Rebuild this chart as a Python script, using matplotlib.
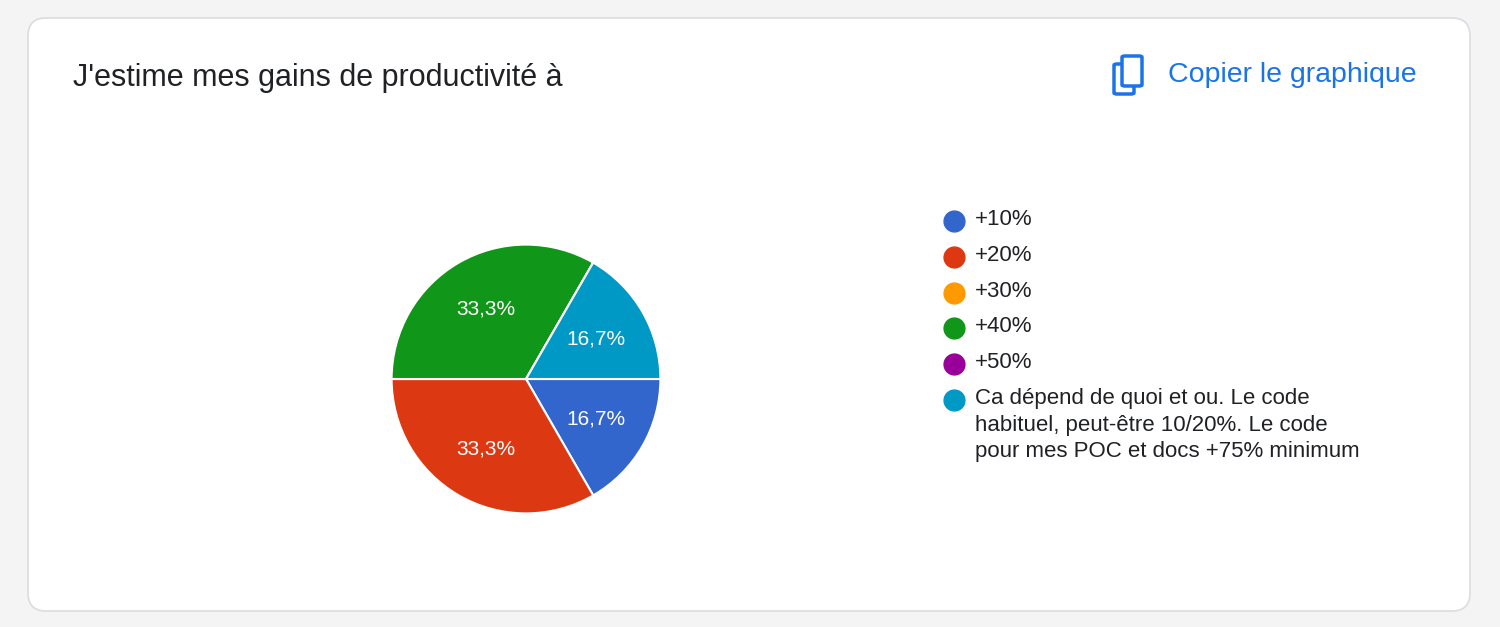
import matplotlib
matplotlib.use("Agg")
import matplotlib.pyplot as plt
from matplotlib.patches import FancyBboxPatch
from matplotlib.lines import Line2D

title = "J'estime mes gains de productivité à"
categories = ["+10%", "+20%", "+30%", "+40%", "+50%",
              "Ca dépend de quoi et ou. Le code\nhabituel, peut-être 10/20%. Le code\npour mes POC et docs +75% minimum"]
counts = [1, 2, 0, 2, 0, 1]
colors = ["#3366cc", "#dc3912", "#ff9900", "#109618", "#990099", "#0099c6"]

plt.rcParams["font.family"] = "Liberation Sans"
W, H = 1500, 627
fig = plt.figure(figsize=(15, 6.27), dpi=100, facecolor="#f4f4f4")

card = FancyBboxPatch((28 / W, 1 - 611 / H), (1470 - 28) / W, (611 - 18) / H,
                      boxstyle="round,pad=0,rounding_size=0.012", transform=fig.transFigure,
                      facecolor="white", edgecolor="#dadce0", linewidth=1.2, mutation_aspect=W / H,
                      zorder=-10)
fig.patches.append(card)

fig.text(73 / W, 1 - 78 / H, title, fontsize=22, color="#202124", va="center", ha="left")
fig.text(1168 / W, 1 - 75 / H, "Copier le graphique", fontsize=20.5, color="#1a73e8", va="center", ha="left")
for (x0, y0) in [(1114, 64), (1122, 56)]:
    r = FancyBboxPatch((x0 / W, 1 - (y0 + 30) / H), 20 / W, 30 / H, boxstyle="round,pad=0,rounding_size=0.002",
                       transform=fig.transFigure, facecolor="white", edgecolor="#1a73e8", linewidth=2.5)
    fig.patches.append(r)

cx, cy, rad = 526, 379, 168
ax = fig.add_axes([(cx - rad) / W, 1 - (cy + rad) / H, 2 * rad / W, 2 * rad / H], zorder=5)

def fmt(p):
    return ("%.1f%%" % p).replace(".", ",") if p > 0 else ""

wedges, texts, autotexts = ax.pie(counts, colors=colors, startangle=0, counterclock=False,
                                  autopct=fmt, pctdistance=0.6,
                                  wedgeprops=dict(edgecolor="white", linewidth=1.5),
                                  textprops=dict(color="white", fontsize=15))
ax.set_aspect("equal")

ys = [221, 257, 293, 328, 364, 400]
for y, c, lab in zip(ys, colors, categories):
    fig.lines.append(Line2D([954 / W], [1 - y / H], marker="o", markersize=15, color=c,
                            transform=fig.transFigure))
    fig.text(975 / W, 1 - (y - 12) / H, lab, fontsize=16, color="#202124", va="top", ha="left",
             linespacing=1.35)

fig.savefig("out.png", dpi=100, facecolor=fig.get_facecolor())
